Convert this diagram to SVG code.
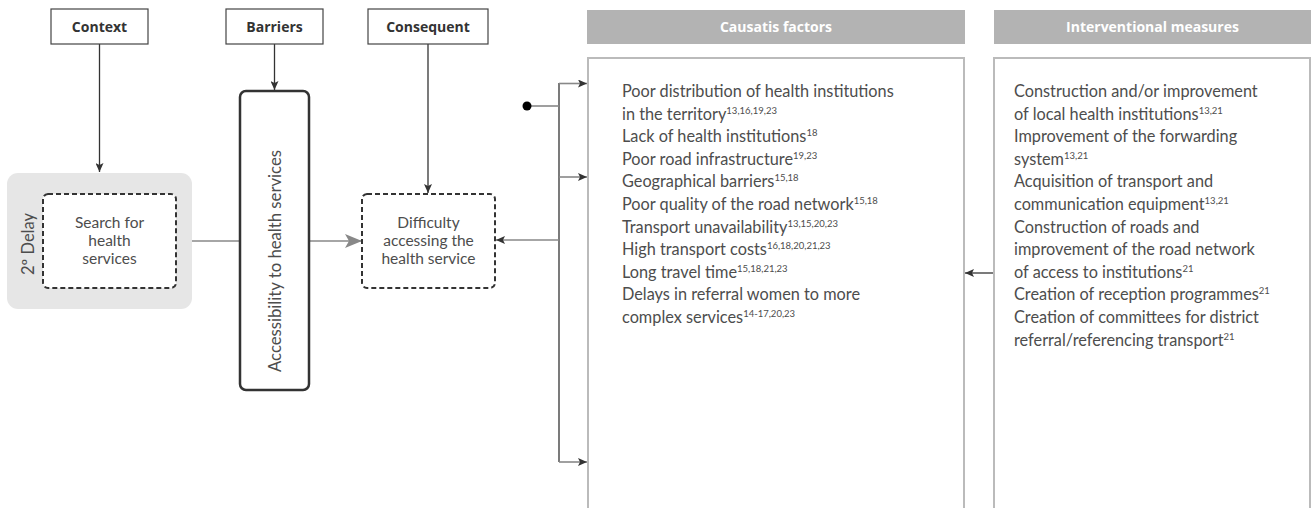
<svg xmlns="http://www.w3.org/2000/svg" width="1312" height="508" viewBox="0 0 1312 508">
<defs>
<style>
.hdr{fill:#fff;stroke:#444;stroke-width:1.2}
.hdrt{font-family:"Open Sans","Liberation Sans",sans-serif;font-weight:bold;font-size:14px;fill:#333;text-anchor:middle}
.gh{fill:#b3b3b3}
.ght{font-family:"Open Sans","Liberation Sans",sans-serif;font-weight:bold;font-size:14px;fill:#fff;text-anchor:middle}
.body{font-family:Lato,"Liberation Sans",sans-serif;font-size:16.3px;fill:#4d4d4d}
.ctr{text-anchor:middle}
.dash{fill:#fff;stroke:#333;stroke-width:2;stroke-dasharray:5 3}
.panel{fill:#fff;stroke:#bbb;stroke-width:2}
.dk{stroke:#333;stroke-width:1.3;fill:none}
.gr{stroke:#888;stroke-width:1.6;fill:none}
.sup{font-size:9.5px}
</style>
<marker id="ah" markerWidth="10" markerHeight="8" refX="9" refY="4" orient="auto" markerUnits="userSpaceOnUse">
<path d="M0,0 L9,4 L0,8 L2,4 z" fill="#333"/>
</marker>
<marker id="big" markerWidth="18" markerHeight="14" refX="17" refY="7" orient="auto" markerUnits="userSpaceOnUse">
<path d="M0,0 L17,7 L0,14 L4,7 z" fill="#888"/>
</marker>
</defs>

<g id="connectors">
<line class="dk" x1="99.5" y1="44" x2="99.5" y2="172" marker-end="url(#ah)"/>
<line class="dk" x1="274.5" y1="44" x2="274.5" y2="90" marker-end="url(#ah)"/>
<line class="dk" x1="428" y1="44" x2="428" y2="193" marker-end="url(#ah)"/>
<line class="gr" x1="192" y1="241" x2="240" y2="241"/>
<line class="gr" x1="310" y1="241" x2="362" y2="241" marker-end="url(#big)"/>
<line class="dk" x1="559" y1="83" x2="559" y2="462"/>
<line class="gr" x1="527" y1="106" x2="559" y2="106"/>
<circle cx="527" cy="106" r="4.5" fill="#000"/>
<line class="gr" x1="559" y1="83.5" x2="587" y2="83.5" marker-end="url(#ah)"/>
<line class="gr" x1="559" y1="177" x2="587" y2="177" marker-end="url(#ah)"/>
<line class="gr" x1="559" y1="462" x2="587" y2="462" marker-end="url(#ah)"/>
<line class="gr" x1="559" y1="240" x2="496" y2="240" marker-end="url(#ah)"/>
<line class="dk" x1="993" y1="273" x2="965" y2="273" marker-end="url(#ah)"/>
</g>

<g id="context">
<rect class="hdr" x="51" y="9" width="97" height="35"/>
<text class="hdrt" x="99.5" y="31.5">Context</text>
</g>
<g id="barriers">
<rect class="hdr" x="226" y="9" width="97" height="35"/>
<text class="hdrt" x="274.5" y="31.5">Barriers</text>
</g>
<g id="consequent">
<rect class="hdr" x="368" y="9" width="120" height="35"/>
<text class="hdrt" x="428" y="31.5">Consequent</text>
</g>

<g id="delay">
<rect x="7" y="173" width="185" height="136" rx="11" fill="#e6e6e6"/>
<text class="body" transform="translate(34,244) rotate(-90)" text-anchor="middle" style="font-size:16.5px">2º Delay</text>
</g>
<g id="search">
<rect class="dash" x="43" y="194" width="133" height="94" rx="5"/>
<text class="body ctr" style="font-size:15.5px"><tspan x="109.5" y="228">Search for</tspan><tspan x="109.5" y="246">health</tspan><tspan x="109.5" y="264">services</tspan></text>
</g>

<g id="accessibility">
<rect x="240" y="91" width="69" height="299" rx="6" fill="#fff" stroke="#333" stroke-width="2.5"/>
<text class="body" transform="translate(281,261) rotate(-90)" text-anchor="middle" style="font-size:16.7px">Accessibility to health services</text>
</g>

<g id="difficulty">
<rect class="dash" x="362" y="194" width="133" height="94" rx="5"/>
<text class="body ctr" style="font-size:15.5px"><tspan x="428.5" y="228">Difficulty</tspan><tspan x="428.5" y="246">accessing the</tspan><tspan x="428.5" y="264">health service</tspan></text>
</g>

<g id="causatis">
<rect class="gh" x="587" y="10" width="378" height="34"/>
<text class="ght" x="776" y="32">Causatis factors</text>
<rect class="panel" x="588" y="58" width="376" height="480"/>
<text class="body">
<tspan x="622" y="97">Poor distribution of health institutions</tspan>
<tspan x="622" y="119.6">in the territory<tspan class="sup" dy="-6">13,16,19,23</tspan></tspan>
<tspan x="622" y="142.2">Lack of health institutions<tspan class="sup" dy="-6">18</tspan></tspan>
<tspan x="622" y="164.8">Poor road infrastructure<tspan class="sup" dy="-6">19,23</tspan></tspan>
<tspan x="622" y="187.4">Geographical barriers<tspan class="sup" dy="-6">15,18</tspan></tspan>
<tspan x="622" y="210">Poor quality of the road network<tspan class="sup" dy="-6">15,18</tspan></tspan>
<tspan x="622" y="232.6">Transport unavailability<tspan class="sup" dy="-6">13,15,20,23</tspan></tspan>
<tspan x="622" y="255.2">High transport costs<tspan class="sup" dy="-6">16,18,20,21,23</tspan></tspan>
<tspan x="622" y="277.8">Long travel time<tspan class="sup" dy="-6">15,18,21,23</tspan></tspan>
<tspan x="622" y="300.4">Delays in referral women to more</tspan>
<tspan x="622" y="323">complex services<tspan class="sup" dy="-6">14-17,20,23</tspan></tspan>
</text>
</g>

<g id="interventional">
<rect class="gh" x="994" y="10" width="317" height="34"/>
<text class="ght" x="1152.5" y="32">Interventional measures</text>
<rect class="panel" x="994" y="58" width="316" height="480"/>
<text class="body">
<tspan x="1014" y="97">Construction and/or improvement</tspan>
<tspan x="1014" y="119.6">of local health institutions<tspan class="sup" dy="-6">13,21</tspan></tspan>
<tspan x="1014" y="142.2">Improvement of the forwarding</tspan>
<tspan x="1014" y="164.8">system<tspan class="sup" dy="-6">13,21</tspan></tspan>
<tspan x="1014" y="187.4">Acquisition of transport and</tspan>
<tspan x="1014" y="210">communication equipment<tspan class="sup" dy="-6">13,21</tspan></tspan>
<tspan x="1014" y="232.6">Construction of roads and</tspan>
<tspan x="1014" y="255.2">improvement of the road network</tspan>
<tspan x="1014" y="277.8">of access to institutions<tspan class="sup" dy="-6">21</tspan></tspan>
<tspan x="1014" y="300.4">Creation of reception programmes<tspan class="sup" dy="-6">21</tspan></tspan>
<tspan x="1014" y="323">Creation of committees for district</tspan>
<tspan x="1014" y="345.6">referral/referencing transport<tspan class="sup" dy="-6">21</tspan></tspan>
</text>
</g>
</svg>
